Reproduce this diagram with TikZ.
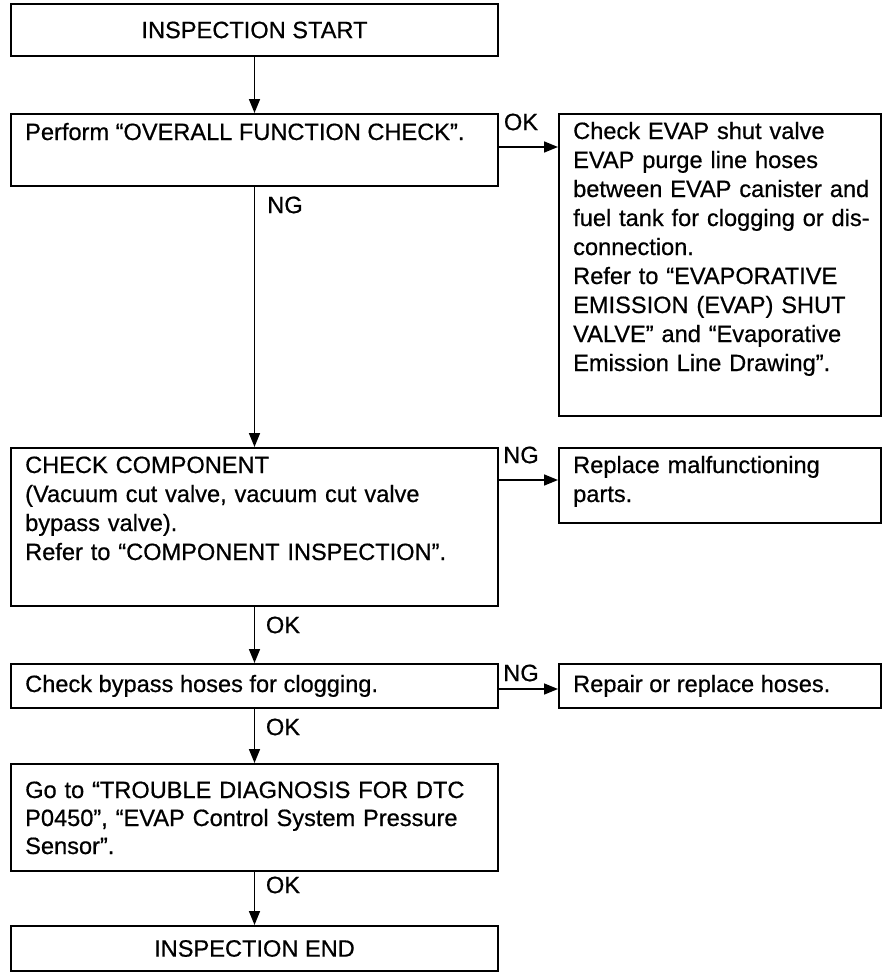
\documentclass[tikz,border=0pt]{standalone}
\usepackage{fontspec}
\setmainfont[FakeBold=0.6]{Liberation Sans}
\usetikzlibrary{arrows.meta}
\newcommand\myfs{\fontsize{23.6}{29}\selectfont}
\begin{document}
\begin{tikzpicture}[x=1pt,y=-1pt,
  box/.style={draw, line width=2pt, minimum width=487pt, anchor=north west, inner sep=0pt, font=\myfs},
  rbox/.style={draw, line width=2pt, minimum width=322pt, anchor=north west, inner sep=0pt},
  txt/.style={anchor=base west, inner sep=0pt, align=left, font=\myfs},
  lbl/.style={inner sep=0pt, font=\myfs},
  arr/.style={line width=1.6pt, -{Triangle[length=14pt,width=11pt]}}]
\fill[white] (0,0) rectangle (896,980);
\useasboundingbox (0,0) rectangle (896,980);

\node[box, minimum height=52pt] (start) at (10,3) {INSPECTION START};
\node[box, minimum height=72pt] (perf) at (10,113) {};
\node[txt] (perfT) at (25,140) {Perform “OVERALL FUNCTION CHECK”.};
\node[rbox, minimum height=302pt] (evap) at (558,113) {};
\node[txt, text width=315pt] (evapT) at (573,139) {Check EVAP shut valve\\EVAP purge line hoses\\between EVAP canister and\\fuel tank for clogging or dis-\\connection.\\Refer to “EVAPORATIVE\\EMISSION (EVAP) SHUT\\VALVE” and “Evaporative\\Emission Line Drawing”.};

\node[box, minimum height=158pt] (cc) at (10,447) {};
\node[txt, text width=470pt] (ccT) at (25,473) {CHECK COMPONENT\\(Vacuum cut valve, vacuum cut valve\\bypass valve).\\Refer to “COMPONENT INSPECTION”.};
\node[rbox, minimum height=75pt] (rep) at (558,447) {};
\node[txt, text width=310pt] (repT) at (573,473) {Replace malfunctioning\\parts.};

\node[box, minimum height=44pt] (byp) at (10,663) {};
\node[txt] (bypT) at (25,692) {Check bypass hoses for clogging.};
\node[rbox, minimum height=44pt] (repair) at (558,663) {};
\node[txt] (repairT) at (573,692) {Repair or replace hoses.};

\node[box, minimum height=107pt] (goto) at (10,763) {};
\node[txt, text width=470pt, font=\fontsize{23.6}{28}\selectfont] (gotoT) at (25,798) {Go to “TROUBLE DIAGNOSIS FOR DTC\\P0450”, “EVAP Control System Pressure\\Sensor”.};
\node[box, minimum height=45pt] (end) at (10,925) {INSPECTION END};

\draw[arr] (start) -- (perf);
\draw[arr] (perf) -- (cc);
\draw[arr] (cc) -- (byp);
\draw[arr] (byp) -- (goto);
\draw[arr] (goto) -- (end);
\draw[arr] ([yshift=-34pt]perf.north east) -- ([yshift=-34pt]evap.north west);
\draw[arr] ([yshift=-33pt]cc.north east) -- ([yshift=-33pt]rep.north west);
\draw[arr] ([yshift=-26pt]byp.north east) -- ([yshift=-26pt]repair.north west);

\node[lbl] (okA) at (521,122) {OK};
\node[lbl] (ngA) at (285,205) {NG};
\node[lbl] (ngB) at (521,455) {NG};
\node[lbl] (okB) at (283,625) {OK};
\node[lbl] (ngC) at (521,673) {NG};
\node[lbl] (okC) at (283,727) {OK};
\node[lbl] (okD) at (283,885) {OK};
\end{tikzpicture}
\end{document}
